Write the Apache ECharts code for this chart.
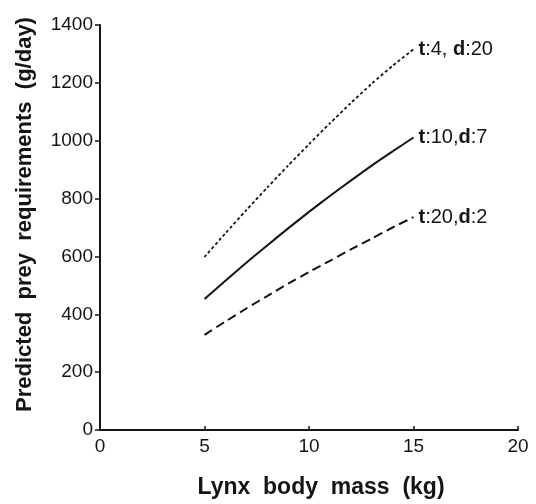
<!DOCTYPE html>
<html>
<head>
<meta charset="utf-8">
<script src="https://cdn.jsdelivr.net/npm/echarts@6/dist/echarts.min.js"></script>
<style>
html,body{margin:0;padding:0;background:#fff;}
#c{width:536px;height:504px;}
</style>
</head>
<body>
<div id="c"></div>
<script>
// Lynx body mass (kg)
const mass = [5, 6, 7, 8, 9, 10, 11, 12, 13, 14, 15];
// Predicted prey requirements (g/day)
const seriesNames = ['t:4, d:20', 't:10,d:7', 't:20,d:2'];
const t4d20 = [598, 680, 760, 838, 914, 988, 1060, 1130, 1197, 1259, 1316];
const t10d7 = [453, 516, 578, 638, 697, 754, 809, 862, 914, 963, 1011];
const t20d2 = [329, 375, 420, 463, 506, 546, 585, 624, 662, 700, 736];
const xTicks = [0, 5, 10, 15, 20];
const yTicks = [0, 200, 400, 600, 800, 1000, 1200, 1400];

const values = [t4d20, t10d7, t20d2];
const dashes = [[3, 2.5], 'solid', [9, 5]];
const widths = [1.8, 2, 2];
const ink = '#141414';

const chart = echarts.init(document.getElementById('c'), null, {renderer: 'canvas'});
const series = values.map((vals, i) => ({
  type: 'line',
  name: seriesNames[i],
  data: vals.map((v, k) => [mass[k], v]),
  showSymbol: false,
  smooth: 0.2,
  silent: true,
  lineStyle: {color: ink, width: widths[i], type: dashes[i]},
  endLabel: {
    show: true,
    distance: 5,
    formatter: () => seriesNames[i].replace(/([td])/g, '{b|$1}'),
    color: ink,
    fontFamily: 'Liberation Sans',
    fontSize: 20,
    rich: {b: {fontWeight: 'bold', fontSize: 20, fontFamily: 'Liberation Sans', color: ink}}
  }
}));

chart.setOption({
  animation: false,
  backgroundColor: '#ffffff',
  grid: {left: 100, right: 18, top: 25, bottom: 70},
  xAxis: {
    type: 'value',
    min: xTicks[0], max: xTicks[xTicks.length - 1], interval: 5,
    name: 'Lynx  body  mass  (kg)',
    nameLocation: 'middle',
    nameGap: 46,
    nameTextStyle: {fontFamily: 'Liberation Sans', fontWeight: 'bold', fontSize: 23, color: ink, padding: [0, 0, 0, 24]},
    axisLine: {show: true, lineStyle: {color: ink, width: 2}},
    axisTick: {show: true, inside: true, length: 4, lineStyle: {color: ink, width: 1.5}},
    axisLabel: {fontFamily: 'Liberation Sans', fontSize: 19, color: ink, margin: 7},
    splitLine: {show: false}
  },
  yAxis: {
    type: 'value',
    min: yTicks[0], max: yTicks[yTicks.length - 1], interval: 200,
    name: 'Predicted  prey  requirements  (g/day)',
    nameLocation: 'middle',
    nameGap: 64,
    nameRotate: 90,
    nameTextStyle: {fontFamily: 'Liberation Sans', fontWeight: 'bold', fontSize: 22, color: ink, padding: [0, 0, 0, 26]},
    axisLine: {show: true, lineStyle: {color: ink, width: 2}},
    axisTick: {show: true, inside: false, length: 5, lineStyle: {color: ink, width: 1.5}},
    axisLabel: {fontFamily: 'Liberation Sans', fontSize: 19, color: ink, margin: 7, formatter: v => String(v)},
    splitLine: {show: false}
  },
  series: series
});
</script>
</body>
</html>
